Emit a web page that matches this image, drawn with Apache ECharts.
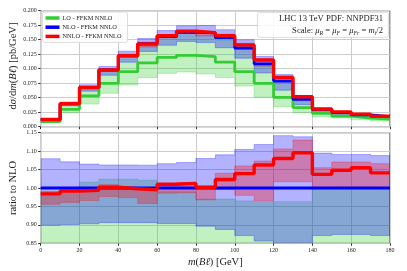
<!DOCTYPE html>
<html><head><meta charset="utf-8">
<script src="https://cdn.jsdelivr.net/npm/echarts@6/dist/echarts.min.js"></script>
<style>html,body{margin:0;padding:0;background:#fff}#c{width:407px;height:271px}</style>
</head><body><div id="c"></div>
<script>
// ---- data ----
const binEdges = [0,10,20,30,40,50,60,70,80,90,100,110,120,130,140,150,160,170,180];
const xTicks = [0,20,40,60,80,100,120,140,160,180];
const topTicks = [0.000,0.025,0.050,0.075,0.100,0.125,0.150,0.175,0.200];
const ratioTicks = [0.85,0.90,0.95,1.00,1.05,1.10,1.15];
const seriesNames = ['LO - FFKM NNLO','NLO - FFKM NNLO','NNLO - FFKM NNLO'];

// top panel: dsigma/dm (pb/GeV)
const loCentral  = [0.0090,0.0299,0.0530,0.0747,0.0948,0.1100,0.1195,0.1230,0.1207,0.1115,0.0948,0.0748,0.0507,0.0330,0.0230,0.0184,0.0150,0.0132];
const loUp       = [0.0126,0.0397,0.0690,0.1001,0.1255,0.1462,0.1538,0.1612,0.1568,0.1489,0.1310,0.1042,0.0758,0.0455,0.0293,0.0243,0.0205,0.0173];
const loDown     = [0.0075,0.0240,0.0390,0.0575,0.0719,0.0845,0.0920,0.0943,0.0910,0.0850,0.0700,0.0507,0.0345,0.0240,0.0172,0.0150,0.0118,0.0100];
const nloCentral = [0.0127,0.0398,0.0679,0.0978,0.1226,0.1432,0.1554,0.1628,0.1617,0.1535,0.1357,0.1082,0.0787,0.0472,0.0294,0.0243,0.0205,0.0173];
const nloUp      = [0.0137,0.0426,0.0723,0.1039,0.1303,0.1521,0.1657,0.1740,0.1746,0.1673,0.1499,0.1210,0.0899,0.0538,0.0322,0.0265,0.0224,0.0188];
const nloDown    = [0.0114,0.0359,0.0613,0.0886,0.1111,0.1297,0.1404,0.1471,0.1450,0.1362,0.1182,0.0926,0.0630,0.0378,0.0256,0.0212,0.0179,0.0151];
const nnloCentral= [0.0125,0.0395,0.0675,0.0980,0.1224,0.1425,0.1570,0.1648,0.1620,0.1570,0.1410,0.1150,0.0850,0.0517,0.0305,0.0255,0.0216,0.0180];
const nnloUp     = [0.0126,0.0396,0.0677,0.0987,0.1230,0.1432,0.1573,0.1652,0.1625,0.1596,0.1438,0.1161,0.0870,0.0533,0.0310,0.0260,0.0219,0.0184];
const nnloDown   = [0.0121,0.0383,0.0656,0.0956,0.1194,0.1372,0.1532,0.1607,0.1565,0.1529,0.1330,0.1045,0.0800,0.0480,0.0294,0.0244,0.0206,0.0173];

// bottom panel: ratio to NLO
const ratioNLO      = [1,1,1,1,1,1,1,1,1,1,1,1,1,1,1,1,1,1];
const ratioNLOUp    = [1.0795,1.071,1.065,1.0625,1.0625,1.062,1.066,1.069,1.080,1.090,1.1045,1.118,1.142,1.139,1.0946,1.091,1.091,1.088];
const ratioNLODown  = [0.899,0.901,0.903,0.906,0.906,0.906,0.9036,0.9036,0.8964,0.8875,0.871,0.856,0.80,0.80,0.871,0.874,0.874,0.871];
const ratioNNLO     = [0.984,0.992,0.994,1.002,0.998,0.995,1.010,1.0125,1.002,1.023,1.039,1.0625,1.080,1.0955,1.037,1.048,1.055,1.041];
const ratioNNLOUp   = [0.990,0.996,0.997,1.009,1.003,1.000,1.012,1.015,1.005,1.040,1.060,1.073,1.106,1.130,1.055,1.0705,1.0705,1.066];
const ratioNNLODown = [0.956,0.961,0.966,0.977,0.974,0.958,0.986,0.987,0.968,0.996,0.980,0.966,1.017,1.017,1.000,1.004,1.004,1.002];
const ratioLOUp     = [0.990,0.997,1.016,1.024,1.024,1.021,0.990,0.990,0.970,0.970,0.965,0.963,0.963,0.963,0.998,0.998,0.998,0.998];
const ratioLODown   = [0.59,0.60,0.57,0.59,0.59,0.59,0.59,0.58,0.56,0.55,0.52,0.47,0.44,0.51,0.59,0.62,0.58,0.58];

// ---- styles ----
const FONT = 'Liberation Serif';
const C_LO = '#33cc33', C_NLO = '#0000ff', C_NNLO = '#ff0000';

function stepData(vals){
  const d = vals.map((v,i)=>[binEdges[i], v]);
  d.push([binEdges[vals.length], vals[vals.length-1]]);
  return d;
}
function band(up, down, fill, edge, idx){
  return {
    type:'custom', xAxisIndex:idx, yAxisIndex:idx, silent:true,
    data:[[binEdges[0], idx===0?0.1:1]],
    renderItem:function(params, api){
      const pts=[];
      for(let i=0;i<up.length;i++){ pts.push(api.coord([binEdges[i], up[i]])); pts.push(api.coord([binEdges[i+1], up[i]])); }
      for(let i=down.length-1;i>=0;i--){ pts.push(api.coord([binEdges[i+1], down[i]])); pts.push(api.coord([binEdges[i], down[i]])); }
      const cs=params.coordSys;
      return {type:'polygon', shape:{points:pts}, style:{fill:fill, stroke:edge, lineWidth:0.8},
        clipPath:{type:'rect', shape:{x:cs.x, y:cs.y, width:cs.width, height:cs.height}}};
    }
  };
}
function line(name, vals, color, w, idx){
  return {type:'line', name:name, xAxisIndex:idx, yAxisIndex:idx, step:'end', symbol:'none',
    data:stepData(vals), lineStyle:{color:color, width:w}, itemStyle:{color:color}, clip:true, silent:true, animation:false};
}

const axisLabelStyle = {fontFamily:FONT, fontSize:6, color:'#222'};
const splitLine = {show:true, lineStyle:{color:'#cccccc', width:1}};
function xAx(idx, showLabels){
  return {type:'value', gridIndex:idx, min:0, max:180, interval:20,
    axisLine:{show:false}, axisTick:{show:true, length:2.5, lineStyle:{color:'#333'}},
    axisLabel:{show:showLabels, ...axisLabelStyle, margin:4},
    splitLine:splitLine};
}

const chart = echarts.init(document.getElementById('c'), null, {renderer:'canvas'});
chart.setOption({
  animation:false,
  backgroundColor:'#fff',
  grid:[
    {left:40.7, top:10.7, width:349.3, height:116, show:true, borderColor:'#333', borderWidth:1, backgroundColor:'transparent'},
    {left:40.7, top:132.7, width:349.3, height:110.6, show:true, borderColor:'#333', borderWidth:1, backgroundColor:'transparent'}
  ],
  xAxis:[xAx(0,false), xAx(1,true)],
  yAxis:[
    {type:'value', gridIndex:0, min:0, max:0.2, interval:0.025,
      axisLine:{show:false}, axisTick:{show:true, length:2.5, lineStyle:{color:'#333'}},
      axisLabel:{...axisLabelStyle, margin:4, formatter:v=>v.toFixed(3)}, splitLine:splitLine},
    {type:'value', gridIndex:1, min:0.85, max:1.15, interval:0.05,
      axisLine:{show:false}, axisTick:{show:true, length:2.5, lineStyle:{color:'#333'}},
      axisLabel:{...axisLabelStyle, margin:4, formatter:v=>v.toFixed(2)}, splitLine:splitLine}
  ],
  legend:{
    data:seriesNames, orient:'vertical', left:42.5, top:12,
    icon:'rect', itemWidth:14, itemHeight:3.5, itemGap:3.2,
    backgroundColor:'rgba(255,255,255,0.85)', borderColor:'#d4d4d4', borderWidth:0.8, borderRadius:2,
    padding:[3,6,3,3],
    textStyle:{fontFamily:FONT, fontSize:6.3, color:'#222', padding:[0,0,0,-2]},
    selectedMode:false
  },
  graphic:[
    {type:'rect', left:257, top:12, shape:{width:131, height:25, r:2}, z:50,
      style:{fill:'rgba(255,255,255,0.85)', stroke:'#d4d4d4', lineWidth:0.8}},
    {type:'text', right:24, top:14.5, z:51,
      style:{text:'LHC 13 TeV PDF: NNPDF31', fontFamily:FONT, fontSize:8.6, fill:'#222'}},
    {type:'text', right:24, top:26.5, z:51,
      style:{text:'Scale: {i|μ}{s|R} = {i|μ}{s|F} = {i|μ}{s|Fr} = {i|m}{s|t}/2', fontFamily:FONT, fontSize:8.6, fill:'#222',
        rich:{i:{fontFamily:FONT, fontSize:8.6, fontStyle:'italic', fill:'#222'},
              s:{fontFamily:FONT, fontSize:5.8, fontStyle:'italic', fill:'#222', padding:[4,0,0,0]}}}},
    {type:'text', x:13, y:66, rotation:Math.PI/2, z:51,
      style:{text:'d{i|σ}/d{i|m}({i|Bℓ}) [pb/GeV]', fontFamily:FONT, fontSize:10.5, fill:'#222', align:'center', verticalAlign:'middle',
        rich:{i:{fontFamily:FONT, fontSize:10.5, fontStyle:'italic', fill:'#222'}}}},
    {type:'text', x:13, y:188, rotation:Math.PI/2, z:51,
      style:{text:'ratio to NLO', fontFamily:FONT, fontSize:10.5, fill:'#222', align:'center', verticalAlign:'middle'}},
    {type:'text', x:215.3, y:262, z:51,
      style:{text:'{i|m}({i|Bℓ}) [GeV]', fontFamily:FONT, fontSize:10.5, fill:'#222', align:'center', verticalAlign:'middle',
        rich:{i:{fontFamily:FONT, fontSize:10.5, fontStyle:'italic', fill:'#222'}}}}
  ],
  series:[
    band(loUp, loDown, 'rgba(50,205,50,0.3)', 'rgba(50,205,50,0.35)', 0),
    band(nloUp, nloDown, 'rgba(0,0,255,0.3)', 'rgba(0,0,255,0.35)', 0),
    band(nnloUp, nnloDown, 'rgba(255,0,0,0.3)', 'rgba(255,0,0,0.35)', 0),
    line(seriesNames[0], loCentral, C_LO, 2.8, 0),
    line(seriesNames[1], nloCentral, C_NLO, 2.8, 0),
    line(seriesNames[2], nnloCentral, C_NNLO, 3.4, 0),
    band(ratioLOUp, ratioLODown, 'rgba(50,205,50,0.3)', 'rgba(50,205,50,0.35)', 1),
    band(ratioNLOUp, ratioNLODown, 'rgba(0,0,255,0.3)', 'rgba(0,0,255,0.35)', 1),
    band(ratioNNLOUp, ratioNNLODown, 'rgba(255,0,0,0.3)', 'rgba(255,0,0,0.35)', 1),
    line('NLO ratio', ratioNLO, C_NLO, 2.8, 1),
    line('NNLO ratio', ratioNNLO, C_NNLO, 3.4, 1)
  ]
});
</script>
</body></html>
